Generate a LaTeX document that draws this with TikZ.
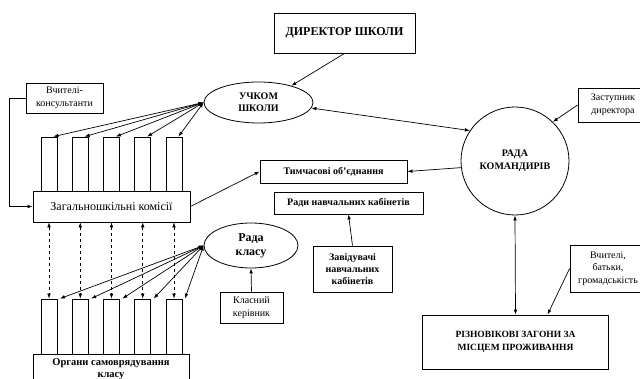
\documentclass[tikz,border=0pt]{standalone}
\usepackage{fontspec}
\setmainfont{Liberation Serif}
\usetikzlibrary{shapes.geometric,arrows.meta}

\begin{document}
\begin{tikzpicture}[x=1pt,y=-1pt,
  box/.style={draw, line width=0.8pt, align=center, inner sep=1pt},
  oval/.style={ellipse, draw, line width=0.8pt, align=center, inner sep=0pt},
  bar/.style={draw, line width=0.8pt, minimum width=16pt, inner sep=0pt},
  boldtext/.style={font=\fontsize{10}{12}\selectfont\bfseries},
  smalltext/.style={font=\fontsize{10}{12.5}\selectfont},
  flow/.style={-{Latex[length=5pt,width=3.6pt]}, line width=0.7pt},
  both/.style={{Latex[length=5pt,width=3.6pt]}-{Latex[length=5pt,width=3.6pt]}, line width=0.7pt},
  link/.style={{Latex[length=5pt,width=3.6pt]}-{Latex[length=5pt,width=3.6pt]}, line width=0.6pt, dashed}]

\useasboundingbox (0,0) rectangle (640,379);
\clip (0,0) rectangle (640,379);
\fill[white] (0,0) rectangle (640,379);

% Top of the school
\node[box, minimum width=141pt, minimum height=40pt, font=\fontsize{12}{13}\selectfont\bfseries]
  (director) at (344.5,33) {ДИРЕКТОР ШКОЛИ};
\node[oval, minimum width=109pt, minimum height=41pt, font=\fontsize{10}{12}\selectfont\bfseries]
  (uchkom) at (258.5,102.5) {УЧКОМ\\ШКОЛИ};
\node[circle, draw, line width=0.8pt, minimum size=108pt, align=center, inner sep=0pt, font=\fontsize{10}{12.5}\selectfont\bfseries]
  (radaKomandyriv) at (515,161) {РАДА\\КОМАНДИРІВ};
\node[box, smalltext, minimum width=70pt, minimum height=34pt]
  (zastupnyk) at (613,105) {Заступник\\директора};

% Middle boxes
\node[box, boldtext, minimum width=147pt, minimum height=23pt]
  (tymchasovi) at (333.5,171.5) {Тимчасові об'єднання};
\node[box, boldtext, minimum width=149pt, minimum height=22pt]
  (radyKabinetiv) at (348.5,203) {Ради навчальних кабінетів};
\node[box, boldtext, minimum width=79pt, minimum height=46pt]
  (zaviduvachi) at (352.5,269) {Завідувачі\\навчальних\\кабінетів};
\node[oval, minimum width=94pt, minimum height=45pt, font=\fontsize{12}{14}\selectfont\bfseries]
  (radaKlasu) at (251,245.5) {Рада\\класу};
\node[box, smalltext, minimum width=63pt, minimum height=31pt]
  (klasnyi) at (251.5,307.5) {Класний\\керівник};

% Left column
\node[box, smalltext, minimum width=77pt, minimum height=30pt]
  (vchyteliKonsultanty) at (64.5,98) {Вчителі-\\консультанти};
\node[box, minimum width=157pt, minimum height=31pt, font=\fontsize{12}{14}\selectfont]
  (zagalnoshkilni) at (111.5,206.5) {Загальношкільні комісії};
\node[box, font=\fontsize{10.5}{12}\selectfont\bfseries, minimum width=156pt, minimum height=30pt, anchor=north]
  (organy) at (111,354) {Органи самоврядування\\класу};
\foreach \i in {1,...,5} {
  \node[bar, minimum height=54pt] (topBar\i) at (49+31.25*\i-31.25,164) {};
  \node[bar, minimum height=55pt] (botBar\i) at (49+31.25*\i-31.25,326.5) {};
}

% Right bottom
\node[box, font=\fontsize{9.5}{12.5}\selectfont\bfseries, minimum width=186pt, minimum height=54pt]
  (riznovikovi) at (515.5,342) {РІЗНОВІКОВІ ЗАГОНИ ЗА\\МІСЦЕМ ПРОЖИВАННЯ};
\node[box, smalltext, minimum width=76pt, minimum height=47pt]
  (vchyteliBatky) at (608,268.5) {Вчителі,\\батьки,\\громадськість};

% Connections
\draw[flow] (director.south) -- (uchkom.27);
\draw[both] (uchkom.-6) -- (radaKomandyriv.146);
\draw[flow] (zastupnyk.west) -- (radaKomandyriv.46);
\draw[flow] (radaKomandyriv.187) -- (tymchasovi.east);
\draw[flow] (zagalnoshkilni.east) -- (tymchasovi.west);
\draw[flow] (zaviduvachi.north) -- (radyKabinetiv.south);
\draw[flow] (klasnyi.north) -- (radaKlasu.south);
\draw[both] (radaKomandyriv.south) -- (riznovikovi.north);
\draw[flow] (vchyteliBatky.west) -- ([xshift=32pt]riznovikovi.north);
\draw[flow] (vchyteliKonsultanty.west) -- ++(-16,0) |- (zagalnoshkilni.west);
\foreach \i in {1,...,5} {
  \draw[both] (uchkom.west) -- ([xshift=-4pt]topBar\i.north east);
  \draw[both] (radaKlasu.west) -- ([xshift=2.5pt]botBar\i.north east);
  \draw[link] (zagalnoshkilni.south -| botBar\i.north) -- (botBar\i.north);
}

\end{tikzpicture}
\end{document}
